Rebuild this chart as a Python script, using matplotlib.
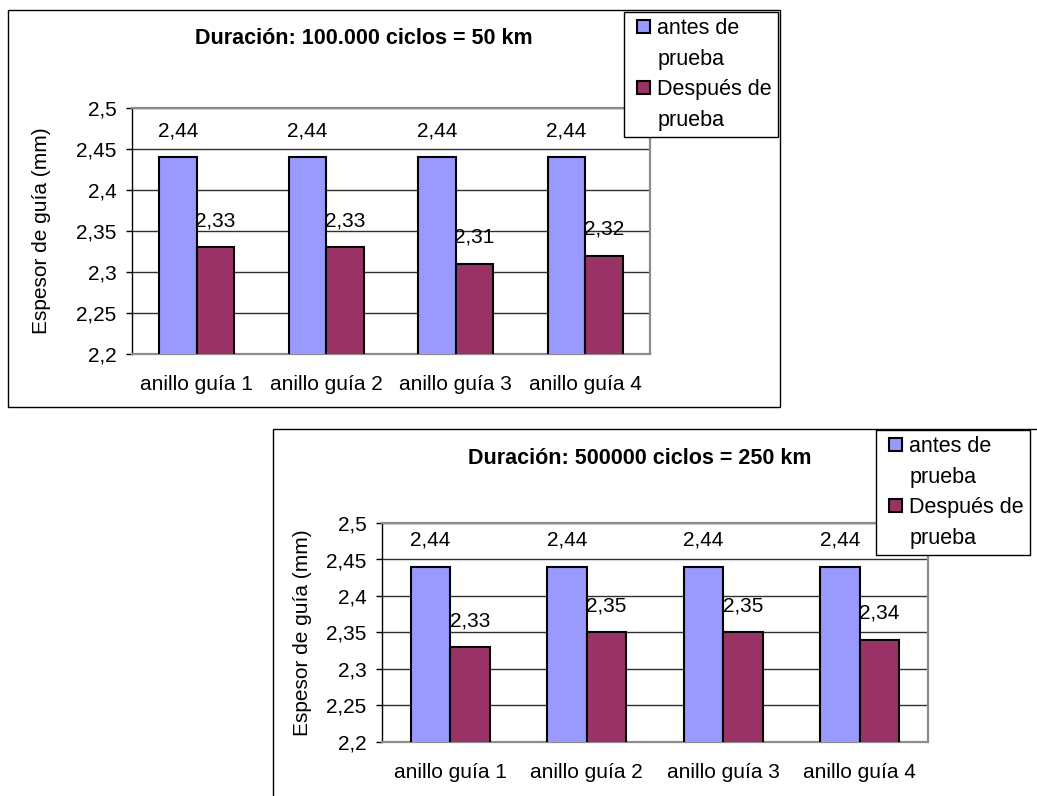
import numpy as np
import matplotlib
matplotlib.use("Agg")
import matplotlib.pyplot as plt
from matplotlib.patches import Rectangle
from matplotlib.legend_handler import HandlerPatch
from matplotlib.ticker import FuncFormatter, MultipleLocator

plt.rcParams['font.family'] = ['Liberation Sans', 'DejaVu Sans']

# datos de espesor de los anillos guía (mm)
categorias = ['anillo guía 1', 'anillo guía 2', 'anillo guía 3', 'anillo guía 4']
antes_100k = [2.44, 2.44, 2.44, 2.44]
despues_100k = [2.33, 2.33, 2.31, 2.32]
antes_500k = [2.44, 2.44, 2.44, 2.44]
despues_500k = [2.33, 2.35, 2.35, 2.34]
series = ['antes de', 'prueba', 'Después de', 'prueba']

W, H = 1037, 796
AZUL = '#9999FF'
GRANATE = '#993366'
FS = 15

fig = plt.figure(figsize=(W / 100, H / 100), dpi=100)


def px_rect(x0, y0, x1, y1):
    return [x0 / W, 1 - y1 / H, (x1 - x0) / W, (y1 - y0) / H]


def coma(v, _=None):
    return f"{v:g}".replace('.', ',')


def cuadrado(legend, orig_handle, xdescent, ydescent, width, height, fontsize):
    # cuadro pequeño pegado al texto de la leyenda
    s = 0.6 * fontsize
    return Rectangle((-xdescent + width - s, -ydescent + (height - s) / 2), s, s)


def grafico(area, caja, leyenda, titulo, pos_titulo, antes, despues, ylab_x):
    # marco exterior del gráfico
    bx0, by0, bx1, by1 = caja
    fig.patches.append(Rectangle((bx0 / W, 1 - by1 / H), (bx1 - bx0) / W, (by1 - by0) / H,
                                 transform=fig.transFigure, fill=False,
                                 edgecolor='black', lw=1.0, zorder=0))

    ax = fig.add_axes(px_rect(*area))
    x = np.arange(len(categorias))
    ancho = 0.29
    b1 = ax.bar(x - ancho / 2, antes, ancho, color=AZUL, edgecolor='black', lw=1.5, zorder=3)
    b2 = ax.bar(x + ancho / 2, despues, ancho, color=GRANATE, edgecolor='black', lw=1.5, zorder=3)

    for barras, vals in ((b1, antes), (b2, despues)):
        for r, v in zip(barras, vals):
            ax.annotate(coma(v), (r.get_x() + r.get_width() / 2, v),
                        xytext=(0, 19), textcoords='offset points',
                        ha='center', va='center', fontsize=FS, zorder=4)

    ax.set_ylim(2.2, 2.5)
    ax.set_xlim(-0.5, len(categorias) - 0.5)
    ax.yaxis.set_major_locator(MultipleLocator(0.05))
    ax.yaxis.set_major_formatter(FuncFormatter(coma))
    ax.set_xticks(x)
    ax.set_xticklabels(categorias)
    ax.grid(axis='y', color='#303030', lw=1.0, zorder=1)
    ax.tick_params(axis='y', length=4.3, width=1, color='black', pad=7, labelsize=FS)
    ax.tick_params(axis='x', length=0, pad=15, labelsize=FS)
    for lado in ('top', 'right', 'bottom'):
        ax.spines[lado].set_color('#8c8c8c')
        ax.spines[lado].set_linewidth(1.6)
    ax.spines['left'].set_color('black')
    ax.spines['left'].set_linewidth(1.0)

    ax.set_ylabel('Espesor de guía (mm)', fontsize=FS)
    ax.yaxis.set_label_coords(ylab_x, 0.5)

    fig.text(pos_titulo[0] / W, 1 - pos_titulo[1] / H, titulo,
             ha='center', va='center', fontsize=15.5, fontweight='bold')

    vacio = Rectangle((0, 0), 1, 1, facecolor='none', edgecolor='none')
    manejadores = [Rectangle((0, 0), 1, 1, facecolor=AZUL, edgecolor='black', lw=1.5), vacio,
                   Rectangle((0, 0), 1, 1, facecolor=GRANATE, edgecolor='black', lw=1.5), vacio]
    leg = fig.legend(manejadores, series, loc='upper left',
                     bbox_to_anchor=(leyenda[0] / W, 1 - leyenda[1] / H),
                     bbox_transform=fig.transFigure, borderaxespad=0,
                     fancybox=False, edgecolor='black', framealpha=1,
                     fontsize=15.5, handlelength=0.9, handleheight=0.6,
                     handletextpad=0.35, borderpad=0.3, labelspacing=0.44,
                     handler_map={Rectangle: HandlerPatch(patch_func=cuadrado)})
    leg.get_frame().set_linewidth(1.0)
    return ax


grafico((132, 108, 650, 354), (8, 10, 780, 407), (624, 12),
        'Duración: 100.000 ciclos = 50 km', (364, 38),
        antes_100k, despues_100k, -0.156)
grafico((382, 523, 928, 742), (273, 429, W + 20, H + 20), (876, 430),
        'Duración: 500000 ciclos = 250 km', (640, 458),
        antes_500k, despues_500k, -0.128)

fig.savefig('out.png', dpi=100)
